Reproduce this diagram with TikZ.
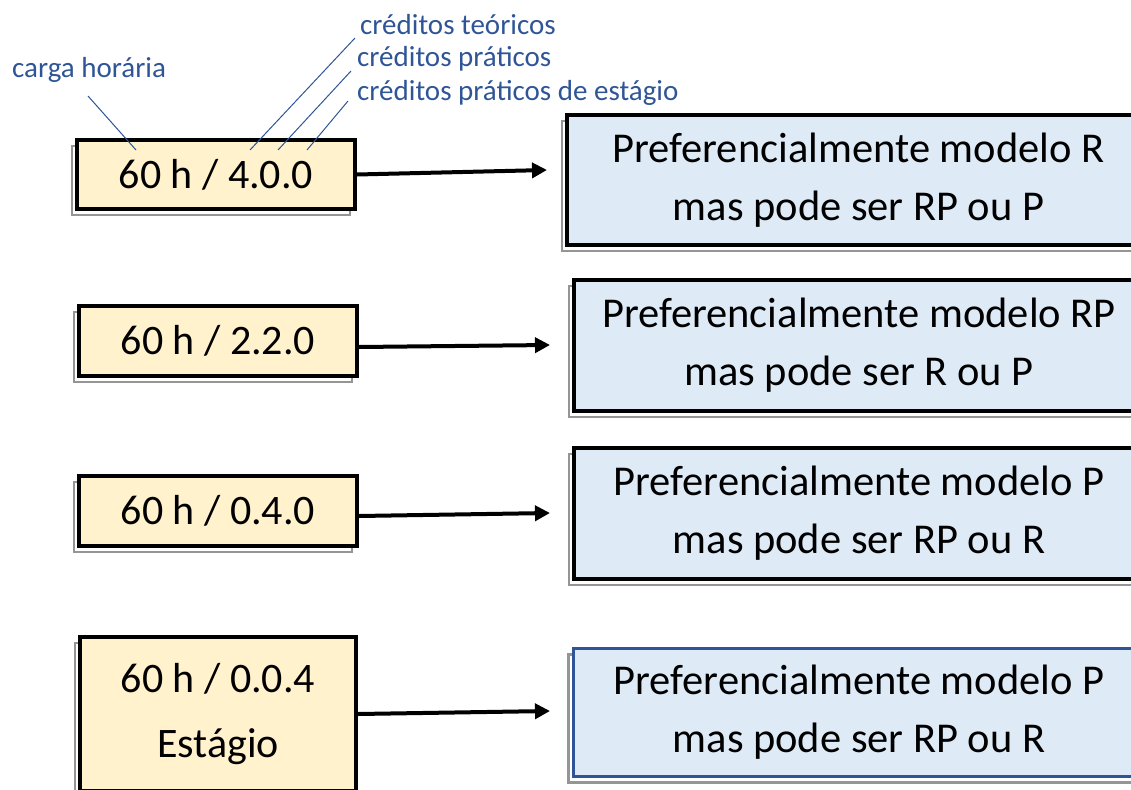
\documentclass[tikz,border=0pt]{standalone}
\usepackage{fontspec}
\setmainfont{Carlito}
\usetikzlibrary{arrows.meta,shadows}
\definecolor{lyellow}{HTML}{FFF2CC}
\definecolor{lblue}{HTML}{DEEBF7}
\definecolor{dblue}{HTML}{2F5597}
\definecolor{shgray}{HTML}{959595}
\begin{document}
\begin{tikzpicture}[x=1pt,y=-1pt,
  shbox/.style={drop shadow={shadow xshift=-5pt,shadow yshift=-6pt,fill=white,draw=shgray,line width=2.5pt,opacity=1}},
  hourbox/.style={shbox,draw=black,line width=4pt,fill=lyellow,inner sep=0pt,font=\fontsize{42}{65}\selectfont,align=center},
  modelbox/.style={shbox,draw=black,line width=4pt,fill=lblue,inner sep=0pt,font=\fontsize{42.5}{58}\selectfont,align=center},
  lbl/.style={text=dblue,font=\fontsize{29}{35}\selectfont,inner sep=0pt,anchor=base west},
  leader/.style={draw=dblue,line width=1pt},
  arr/.style={line width=4pt,-{Triangle[length=15pt,width=15pt]}}]
\useasboundingbox (0,0) rectangle (1131,789);
\clip (0,0) rectangle (1131,789);

% left boxes
\node[hourbox,minimum width=278pt,minimum height=69pt] (l1) at (216,174.5) {60 h / 4.0.0};
\node[hourbox,minimum width=278pt,minimum height=70pt] (l2) at (218,341) {60 h / 2.2.0};
\node[hourbox,minimum width=278pt,minimum height=70pt] (l3) at (218,511) {60 h / 0.4.0};
\node[hourbox,minimum width=276pt,minimum height=154pt] (l4) at (218,714) {60 h / 0.0.4\\Estágio};

% right boxes
\node[modelbox,minimum width=583pt,minimum height=130pt] (r1) at (858.5,180) {Preferencialmente modelo R\\mas pode ser RP ou P};
\node[modelbox,minimum width=570pt,minimum height=131pt] (r2) at (859,345.5) {Preferencialmente modelo RP\\mas pode ser R ou P};
\node[modelbox,minimum width=570pt,minimum height=131pt] (r3) at (859,513.5) {Preferencialmente modelo P\\mas pode ser RP ou R};
\node[modelbox,draw=dblue,line width=3pt,minimum width=571pt,minimum height=128pt] (r4) at (859,712.5) {Preferencialmente modelo P\\mas pode ser RP ou R};

% arrows
\coordinate (t1) at (547,170);
\coordinate (t2) at (550,345);
\coordinate (t3) at (550,513);
\coordinate (t4) at (550,711);
\draw[arr] (l1.east) -- (t1);
\draw[arr] ([yshift=-6pt]l2.east) -- (t2);
\draw[arr] ([yshift=-5pt]l3.east) -- (t3);
\draw[arr] (l4.east) -- (t4);

% labels
\node[lbl] (ch) at (12,78) {carga horária};
\node[lbl] (ct) at (360,35) {créditos teóricos};
\node[lbl] (cp) at (357,67) {créditos práticos};
\node[lbl] (ce) at (357,100) {créditos práticos de estágio};

\coordinate (a0) at (88,96);  \coordinate (b0) at (136,150);
\coordinate (a1) at (355,38); \coordinate (b1) at (250,150);
\coordinate (a2) at (351,71); \coordinate (b2) at (278,150);
\coordinate (a3) at (348,101);\coordinate (b3) at (307,150);
\draw[leader] (a0) -- (b0);
\draw[leader] (a1) -- (b1);
\draw[leader] (a2) -- (b2);
\draw[leader] (a3) -- (b3);
\end{tikzpicture}
\end{document}
